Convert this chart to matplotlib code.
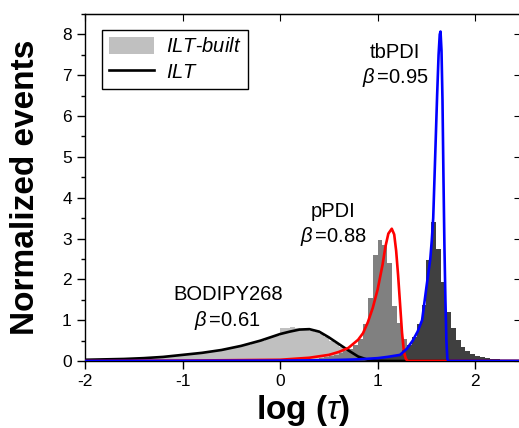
import numpy as np
import matplotlib
matplotlib.use('Agg')
import matplotlib.pyplot as plt
from matplotlib.ticker import MultipleLocator

plt.rcParams['font.family'] = ['Liberation Sans', 'DejaVu Sans']
plt.rcParams['mathtext.fontset'] = 'custom'
plt.rcParams['mathtext.rm'] = 'Liberation Sans'
plt.rcParams['mathtext.it'] = 'Liberation Sans:italic'
plt.rcParams['mathtext.bf'] = 'Liberation Sans:bold'
plt.rcParams['axes.unicode_minus'] = False

# histogram (ILT-built), bin width 0.05 in log(tau)
bin_w = 0.05
bodipy_start = -2.0
bodipy_hist = [0.02, 0.02, 0.03, 0.03, 0.03, 0.04, 0.04, 0.04, 0.05, 0.05,
               0.06, 0.06, 0.07, 0.07, 0.08, 0.09, 0.10, 0.11, 0.12, 0.13,
               0.14, 0.15, 0.16, 0.18, 0.19, 0.21, 0.23, 0.25, 0.27, 0.29,
               0.32, 0.34, 0.37, 0.40, 0.43, 0.46, 0.50, 0.54, 0.58, 0.62,
               0.80, 0.82, 0.83, 0.82, 0.77, 0.76, 0.74, 0.70, 0.65, 0.58,
               0.50, 0.43, 0.35, 0.28, 0.20, 0.13, 0.07, 0.03]
ppdi_start = 0.30
ppdi_hist = [0.05, 0.06, 0.08, 0.10, 0.12, 0.15, 0.19, 0.24, 0.30, 0.40,
             0.55, 0.90, 1.55, 2.60, 2.97, 2.85, 2.40, 1.35, 0.92, 0.55,
             0.30, 0.15, 0.08, 0.04]
tbpdi_start = 0.70
tbpdi_hist = [0.02, 0.02, 0.03, 0.03, 0.04, 0.05, 0.06, 0.07, 0.09, 0.12,
              0.18, 0.27, 0.39, 0.59, 0.90, 1.37, 2.48, 3.40, 2.75, 1.93,
              1.20, 0.80, 0.51, 0.35, 0.25, 0.17, 0.12, 0.09, 0.07, 0.06,
              0.04, 0.03, 0.02, 0.01]

# ILT curves
bodipy_x = [-2.0, -1.8, -1.6, -1.4, -1.2, -1.0, -0.8, -0.6, -0.4, -0.2, -0.1,
            0.0, 0.1, 0.2, 0.3, 0.4, 0.5, 0.6, 0.7, 0.8, 0.9, 1.0, 1.1, 2.47]
bodipy_y = [0.03, 0.04, 0.05, 0.07, 0.10, 0.15, 0.20, 0.27, 0.37, 0.50, 0.58,
            0.66, 0.72, 0.77, 0.78, 0.72, 0.58, 0.42, 0.26, 0.11, 0.03, 0.005, 0.0, 0.0]
ppdi_x = [-2.0, -1.0, 0.0, 0.3, 0.5, 0.6, 0.7, 0.8, 0.85, 0.9, 0.95, 1.0, 1.05,
          1.08, 1.11, 1.145, 1.17, 1.19, 1.21, 1.23, 1.25, 1.27, 1.29, 1.31, 2.47]
ppdi_y = [0.0, 0.01, 0.03, 0.08, 0.15, 0.22, 0.32, 0.52, 0.68, 0.95, 1.30, 1.75, 2.35,
          2.80, 3.12, 3.24, 3.10, 2.70, 2.10, 1.40, 0.70, 0.22, 0.05, 0.0, 0.0]
tbpdi_x = [-2.0, 0.0, 0.5, 0.8, 1.0, 1.1, 1.23, 1.30, 1.36, 1.41, 1.456, 1.50,
           1.54, 1.555, 1.57, 1.59, 1.61, 1.625, 1.637, 1.645, 1.655, 1.665,
           1.675, 1.685, 1.695, 1.705, 1.715, 1.725, 2.47]
tbpdi_y = [0.0, 0.01, 0.02, 0.04, 0.07, 0.10, 0.15, 0.30, 0.50, 0.72, 1.00, 1.80,
           2.50, 2.95, 3.50, 5.00, 6.50, 7.50, 8.00, 8.07, 7.60, 6.40,
           4.50, 2.80, 1.50, 0.50, 0.05, 0.0, 0.0]


def edges(start, n):
    return start + bin_w * np.arange(n + 1)


fig = plt.figure(figsize=(5.19, 4.28), dpi=100)
W, H = 519, 428
ax = fig.add_axes([85 / W, (H - 361) / H, 436 / W, 347 / H])

ax.stairs(bodipy_hist, edges(bodipy_start, len(bodipy_hist)), fill=True,
          color='#c0c0c0', label='$ILT$-$built$', zorder=1)
ax.stairs(ppdi_hist, edges(ppdi_start, len(ppdi_hist)), fill=True,
          color='#808080', zorder=2)
ax.stairs(tbpdi_hist, edges(tbpdi_start, len(tbpdi_hist)), fill=True,
          color='#404040', zorder=3)

ax.plot(bodipy_x, bodipy_y, color='black', lw=1.9, label='$ILT$', zorder=4)
ax.plot(ppdi_x, ppdi_y, color='#ff0000', lw=1.9, zorder=5)
ax.plot(tbpdi_x, tbpdi_y, color='#0000ff', lw=1.9, zorder=6)

ax.set_xlim(-2, 2.47)
ax.set_ylim(0, 8.5)

ax.xaxis.set_major_locator(MultipleLocator(1))
ax.yaxis.set_major_locator(MultipleLocator(1))
ax.yaxis.set_minor_locator(MultipleLocator(0.5))
ax.tick_params(which='major', direction='out', length=6, width=1, labelsize=12.5)
ax.tick_params(which='minor', direction='out', length=3, width=1)
for s in ['top', 'right', 'left', 'bottom']:
    ax.spines[s].set_linewidth(1)

top = ax.secondary_xaxis('top')
top.xaxis.set_major_locator(MultipleLocator(1))
top.tick_params(direction='in', length=5, labeltop=False)
right = ax.secondary_yaxis('right')
right.yaxis.set_major_locator(MultipleLocator(1))
right.tick_params(direction='in', length=5, labelright=False)

ax.set_xlabel(r'log ($\tau$)', fontsize=24, fontweight='bold', labelpad=3)
ax.set_ylabel('Normalized events', fontsize=24, fontweight='bold', labelpad=15)

ax.text(1.18, 7.56, 'tbPDI', fontsize=14.5, ha='center', va='center')
ax.text(1.18, 6.94, r'$\beta\,$=0.95', fontsize=14.5, ha='center', va='center')
ax.text(0.54, 3.66, 'pPDI', fontsize=14.5, ha='center', va='center')
ax.text(0.55, 3.06, r'$\beta\,$=0.88', fontsize=14.5, ha='center', va='center')
ax.text(-0.53, 1.62, 'BODIPY268', fontsize=14.5, ha='center', va='center')
ax.text(-0.54, 1.00, r'$\beta\,$=0.61', fontsize=14.5, ha='center', va='center')

leg = ax.legend(loc='upper left', bbox_to_anchor=(0.038, 0.954), borderaxespad=0,
                fontsize=14.5, fancybox=False, edgecolor='black', framealpha=1,
                handlelength=2.25, handleheight=0.9, labelspacing=0.3,
                borderpad=0.35, handletextpad=0.6)
leg.get_frame().set_linewidth(1)

fig.savefig('out.png', dpi=100)
